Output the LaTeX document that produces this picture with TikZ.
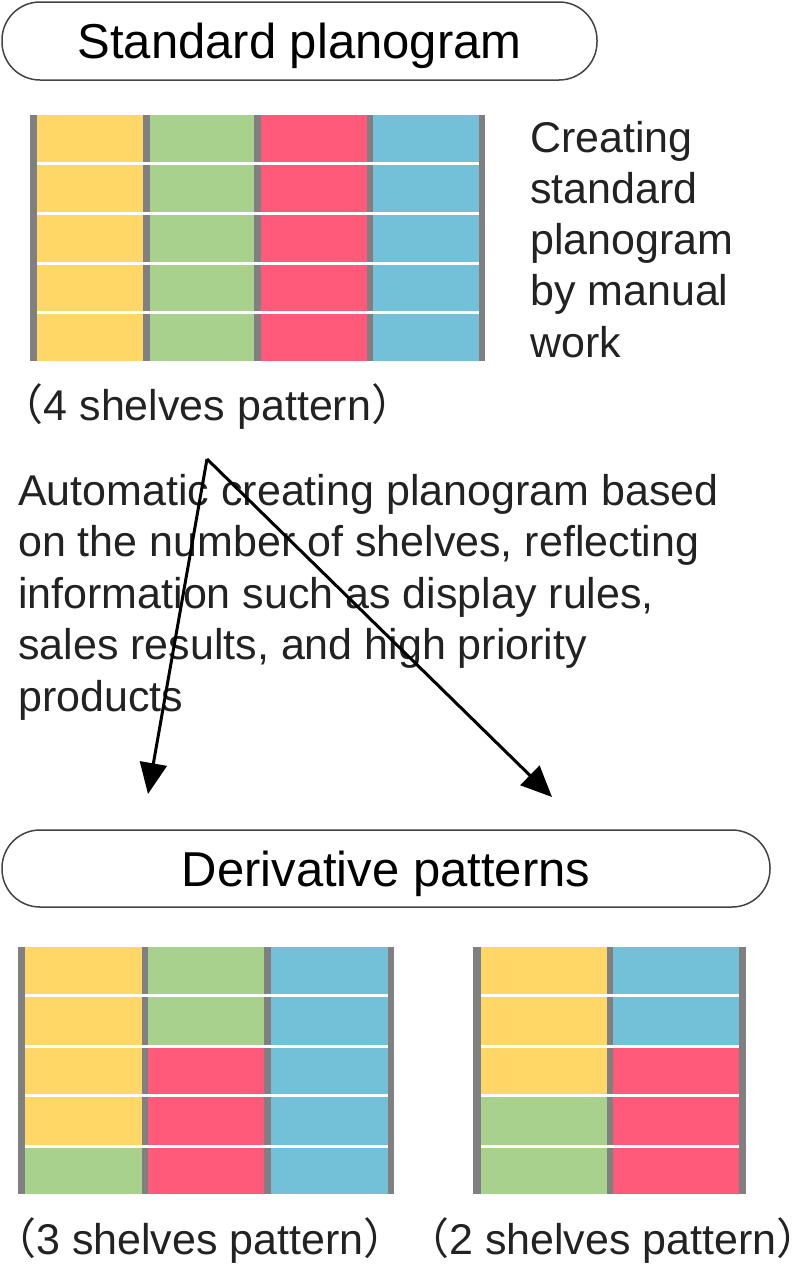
\documentclass[tikz,border=0pt]{standalone}
\usepackage{fontspec}
\setmainfont{Liberation Sans}
\newfontfamily\cjk{Noto Sans CJK JP}
\usetikzlibrary{arrows.meta}
\definecolor{pyellow}{HTML}{FED766}
\definecolor{pgreen}{HTML}{A9D18E}
\definecolor{pred}{HTML}{FF5A7A}
\definecolor{pblue}{HTML}{72C1D9}
\definecolor{pgray}{HTML}{808080}
\definecolor{txt}{HTML}{222222}
\definecolor{boxline}{HTML}{444444}
\newcommand\lpar{{\cjk\makebox[0.45em][r]{（}}}
\newcommand\rpar{{\cjk\makebox[0.45em][l]{）}}}
\begin{document}
\begin{tikzpicture}[x=1pt,y=-1pt,
  titlebox/.style={draw=boxline, line width=1.5pt, rounded corners=38pt, inner sep=0pt,
    text height=35pt, text depth=0pt, font=\fontsize{49}{55}\selectfont, text=black},
  bodytext/.style={inner sep=0pt, text=txt},
  labeltext/.style={inner sep=0pt, anchor=base, text=txt, font=\fontsize{43}{50}\selectfont},
  conn/.style={line width=3pt, -{Triangle[length=31pt,width=27pt]}}]
\useasboundingbox[fill=white] (0,0) rectangle (800,1264);

% title boxes
\node[titlebox, minimum width=595pt, minimum height=78pt] (std) at (299.5,41) {Standard planogram};
\node[titlebox, minimum width=768pt, minimum height=77pt] (der) at (386,868.5) {Derivative patterns};

% top planogram (4 shelves)
\fill[pyellow] (37,115) rectangle (142.7,361);
\fill[pgreen] (149.7,115) rectangle (254.3,361);
\fill[pred] (261.3,115) rectangle (366.7,361);
\fill[pblue] (373.3,115) rectangle (478.7,361);
\foreach \a/\b in {30/37,142.7/149.7,254.3/261.3,366.7/373.3,478.7/485.3}
  \fill[pgray] (\a,115) rectangle (\b,361);
\foreach \y in {163.3,213.3,263.3,312.7}
  \fill[white] (37,\y-1.5) rectangle (478.7,\y+1.5);

% 3 shelves pattern
\fill[pyellow] (25,946.7) rectangle (141.7,1146);
\fill[pgreen] (25,1146) rectangle (141.7,1194);
\fill[pgreen] (147.7,946.7) rectangle (264.3,1046);
\fill[pred] (147.7,1046) rectangle (264.3,1194);
\fill[pblue] (271,946.7) rectangle (387.7,1194);
\foreach \a/\b in {17.7/25,141.7/147.7,264.3/271,387.7/394.3}
  \fill[pgray] (\a,946.7) rectangle (\b,1194);
\foreach \y in {995.7,1046,1095.7,1146}
  \fill[white] (25,\y-1.5) rectangle (387.7,\y+1.5);

% 2 shelves pattern
\fill[pyellow] (480.7,946.7) rectangle (606.7,1095.7);
\fill[pgreen] (480.7,1095.7) rectangle (606.7,1194);
\fill[pblue] (612.7,946.7) rectangle (738.7,1046);
\fill[pred] (612.7,1046) rectangle (738.7,1194);
\foreach \a/\b in {473.3/480.7,606.7/612.7,738.7/746}
  \fill[pgray] (\a,946.7) rectangle (\b,1194);
\foreach \y in {995.7,1046,1095.7,1146}
  \fill[white] (480.7,\y-1.5) rectangle (738.7,\y+1.5);

% texts
\node[bodytext, anchor=base west] (manual) at (530,152)
  {\parbox[t]{270pt}{\fontsize{43}{51.3}\selectfont\raggedright Creating\\standard\\planogram\\by manual\\work}};
\node[labeltext] (lab4) at (207.5,420) {\lpar 4 shelves pattern\rpar};
\node[bodytext, anchor=base west] (auto) at (18,505)
  {\parbox[t]{770pt}{\fontsize{43}{51.5}\selectfont\raggedright Automatic creating planogram based\\on the number of shelves, reflecting\\information such as display rules,\\sales results, and high priority\\products}};
\node[labeltext] (lab3) at (200,1254) {\lpar 3 shelves pattern\rpar};
\node[labeltext] (lab2) at (613,1254) {\lpar 2 shelves pattern\rpar};

% connectors
\coordinate (apex) at (207,459);
\coordinate (tip3) at (148,794);
\coordinate (tip2) at (552,797);
\draw[conn] (apex) -- (tip3);
\draw[conn] (apex) -- (tip2);
\end{tikzpicture}
\end{document}
